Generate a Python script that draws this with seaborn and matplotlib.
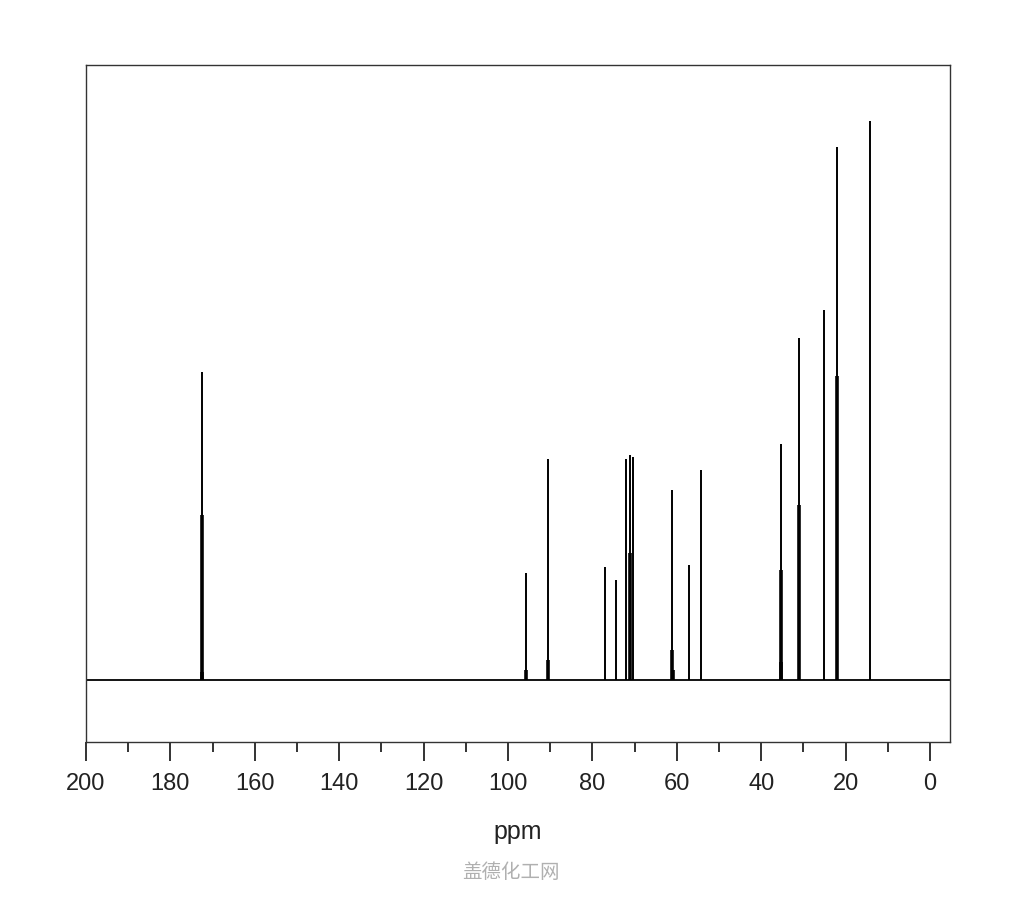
import matplotlib
matplotlib.use("Agg")
import matplotlib.pyplot as plt
import seaborn as sns
import numpy as np
import pandas as pd
from matplotlib.ticker import MultipleLocator

# Peak positions (ppm) and intensities (arbitrary units)
main_ppm = [172.5, 95.7, 90.6, 76.9, 74.4, 72.1, 71.1, 70.4, 61.1, 57.1, 54.3, 35.3, 31.0, 25.1, 22.0, 14.1]
main_int = [308, 107, 221, 113, 100, 221, 225, 223, 190, 115, 210, 236, 342, 370, 533, 559]

# Secondary (overlapping, thicker, shorter) stick components
sub_ppm = [172.6, 172.4, 95.65, 90.55, 71.0, 61.2, 61.0, 35.4, 35.2, 30.95, 22.05]
sub_int = [165, 8, 10, 20, 127, 30, 10, 110, 18, 175, 304]

ticks = list(range(0, 201, 20))

sns.set_theme(style="white")
plt.rcParams['font.family'] = ['Liberation Sans', 'DejaVu Sans']

fig = plt.figure(figsize=(10.24, 9), dpi=100)
ax = fig.add_axes([86/1024, 1-742/900, 864/1024, 677/900])

df_main = pd.DataFrame({"ppm": main_ppm, "int": main_int})
df_sub = pd.DataFrame({"ppm": sub_ppm, "int": sub_int})

ax.axhline(0, color="black", lw=1.3, zorder=1)
ax.vlines(df_main["ppm"], 0, df_main["int"], color="black", lw=1.4, zorder=2)
ax.vlines(df_sub["ppm"], 0, df_sub["int"], color="black", lw=2.6, zorder=3)

ax.set_xlim(200, -4.74)
ax.set_ylim(-62, 615)
ax.set_yticks([])
ax.set_xticks(ticks)
ax.set_xticklabels([str(t) for t in ticks], fontsize=17, color="#222222")
ax.xaxis.set_minor_locator(MultipleLocator(10))
ax.tick_params(axis="x", which="major", direction="out", length=13.5, width=1.4, color="#333333", pad=9, bottom=True)
ax.tick_params(axis="x", which="minor", direction="out", length=7.5, width=1.4, color="#333333", bottom=True)
for s in ax.spines.values():
    s.set_color("#333333")
    s.set_linewidth(1.0)

ax.set_xlabel("ppm", fontsize=18, labelpad=18, color="#222222")

fig.text(511/1024, 1-873/900, "盖德化工网", ha="center", va="center", fontsize=14,
         color="#b0b0b0", family=['Noto Sans CJK SC', 'DejaVu Sans'])

fig.savefig("out.png", dpi=100)
